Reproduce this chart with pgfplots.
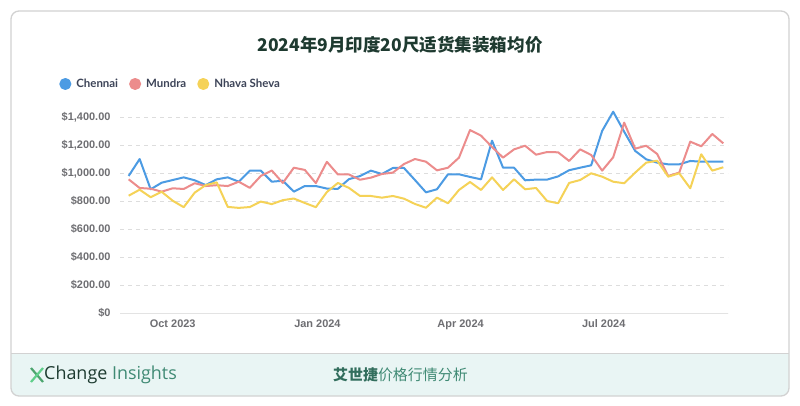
\documentclass[border=0pt]{standalone}
\usepackage{fontspec}
\setmainfont{Liberation Sans}
\newfontfamily\cjk{Noto Sans CJK SC}
\newfontfamily\lato{Lato}
\newfontfamily\opensans{Open Sans}
\usepackage{pgfplots}
\usepackage{pgfplotstable}
\pgfplotsset{compat=1.18}
\definecolor{cblue}{HTML}{4C9BE3}
\definecolor{cred}{HTML}{EC8C8C}
\definecolor{cyel}{HTML}{F5D257}
\definecolor{cgrid}{HTML}{DDDDDD}
\definecolor{cax}{HTML}{E3E3E3}
\definecolor{ctick}{HTML}{6E6E72}
\definecolor{clegend}{HTML}{3D4458}
\definecolor{ctitle}{HTML}{1E3A30}
\definecolor{cfoot}{HTML}{E9F5F4}
\definecolor{cborder}{HTML}{D2D2D2}
\definecolor{cdark}{HTML}{1D3B30}
\definecolor{cteal}{HTML}{3F8A74}
\definecolor{cgreen}{HTML}{5FCF8A}

\pgfplotstableread{
d chennai mundra nhava
0 981 957 840
7 1102 895 883
14 886 890 829
21 933 869 868
28 952 893 804
35 971 888 758
42 950 929 862
49 916 909 916
56 957 915 935
63 971 909 760
70 940 940 753
77 1019 896 759
84 1019 981 798
91 940 1020 780
98 947 931 808
105 869 1040 820
112 909 1024 788
119 909 930 758
126 891 1082 866
133 889 992 931
140 958 992 896
147 980 954 839
154 1019 969 838
161 995 995 826
168 1038 1005 838
175 1038 1066 819
182 952 1102 781
189 864 1083 754
196 886 1021 826
203 993 1040 786
210 993 1112 881
217 974 1309 938
224 957 1269 881
231 1233 1188 971
238 1040 1112 881
245 1040 1171 957
252 950 1197 886
259 955 1133 895
266 955 1152 802
273 978 1150 786
280 1022 1088 931
287 1040 1171 952
294 1057 1131 1000
301 1303 1019 976
308 1440 1114 940
315 1297 1362 929
322 1160 1176 1005
329 1100 1197 1076
336 1076 1138 1090
343 1064 981 976
350 1064 1005 1000
357 1088 1226 893
364 1083 1193 1136
371 1083 1281 1019
378 1083 1214 1043
}\data

\begin{document}
\begin{tikzpicture}
\useasboundingbox (0,0) rectangle (800bp,-406bp);
\fill[white] (0,0) rectangle (800bp,-406bp);
% card
\fill[white, rounded corners=8bp] (11bp,-11bp) rectangle (789bp,-396bp);
\begin{scope}
\clip[rounded corners=8bp] (11bp,-11bp) rectangle (789bp,-396bp);
\fill[cfoot] (0,-353bp) rectangle (800bp,-406bp);
\end{scope}
\draw[cborder, line width=1bp] (11bp,-353bp) -- (789bp,-353bp);
\draw[cborder, line width=1.3bp, rounded corners=8bp] (11bp,-11bp) rectangle (789bp,-396bp);
% title
\node[text=ctitle] at (400bp,-45bp) {\cjk\bfseries\fontsize{17.6}{20}\selectfont 2024年9月印度20尺适货集装箱均价};
% footer
\draw[cgreen!80!black, line width=2.2bp] (31bp,-368bp) -- (43bp,-382bp);
\draw[cgreen, line width=2.2bp] (43bp,-368bp) -- (31bp,-382bp);
\node[anchor=west, inner sep=0] at (44bp,-375bp) {\opensans\fontsize{18}{21}\selectfont\color{cdark}Change \color{cteal}Insights};
\node[anchor=west, inner sep=0] at (333bp,-375bp) {\cjk\fontsize{15}{18}\selectfont\color{cteal!80!black}\bfseries 艾世捷\mdseries\color{cteal}价格行情分析};

\begin{axis}[
  at={(120bp,-313.3bp)}, anchor=south west,
  scale only axis, width=608bp, height=210bp,
  xmin=-5.5, xmax=381, ymin=0, ymax=1500,
  axis x line*=bottom, axis y line*=left,
  y axis line style={draw=none},
  x axis line style={draw=cax, line width=1bp},
  major tick length=0pt,
  xtick={28,120,211,302},
  xticklabels={Oct 2023,Jan 2024,Apr 2024,Jul 2024},
  ytick={0,200,400,600,800,1000,1200,1400},
  yticklabels={\$0,\$200.00,\$400.00,\$600.00,\$800.00,\$1{,}000.00,\$1{,}200.00,\$1{,}400.00},
  ymajorgrids,
  grid style={cgrid, line width=0.8bp, dash pattern=on 4bp off 4bp},
  tick label style={font=\bfseries\fontsize{11}{13}\selectfont, text=ctick},
  yticklabel style={xshift=-6bp},
  xticklabel style={yshift=-3bp},
  legend style={at={(-0.105,1.092)}, anchor=west, draw=none, fill=none,
    font=\lato\bfseries\fontsize{11.5}{13}\selectfont, text=clegend,
    /tikz/every even column/.style={column sep=9bp},
    /tikz/every odd column/.style={column sep=0bp}},
  legend columns=3,
  legend image code/.code={\fill[#1] (0bp,0bp) circle (5bp); \path (8bp,0bp);},
  clip=false,
]
\addplot[color=cblue, line width=2bp, line join=round] table[x=d, y=chennai] {\data};
\addlegendentry{Chennai}
\addplot[color=cred, line width=2bp, line join=round] table[x=d, y=mundra] {\data};
\addlegendentry{Mundra}
\addplot[color=cyel, line width=2bp, line join=round] table[x=d, y=nhava] {\data};
\addlegendentry{Nhava Sheva}
\end{axis}
\end{tikzpicture}
\end{document}
